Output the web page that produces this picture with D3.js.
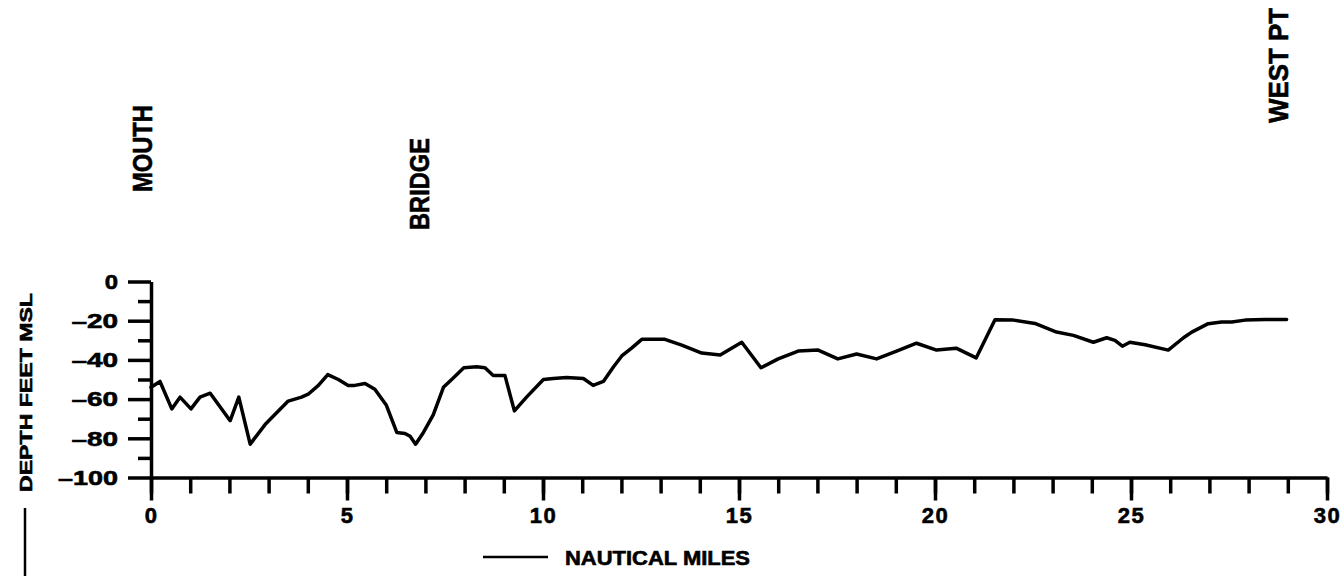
<!DOCTYPE html>
<html>
<head>
<meta charset="utf-8">
<script src="https://cdn.jsdelivr.net/npm/d3@7"></script>
<style>
  html, body { margin: 0; padding: 0; background: #fff; }
  svg { display: block; }
  text { font-family: "Liberation Sans", Arial, sans-serif; font-weight: bold; fill: #000; stroke: #000; stroke-width: 0.6px; }
</style>
</head>
<body>
<svg id="chart" width="1344" height="576"></svg>
<script>
// ---- data ----
const miles = [0.0, 0.23, 0.53, 0.74, 1.02, 1.25, 1.51, 2.02, 2.24, 2.53, 2.91, 3.50, 3.84, 4.01, 4.27, 4.51, 4.78, 5.03, 5.20, 5.46, 5.71, 6.0,
  6.27, 6.48, 6.61, 6.75, 6.95, 7.20, 7.46, 7.67, 7.98, 8.31, 8.52, 8.73, 9.03, 9.27, 9.58, 10.01, 10.26, 10.6, 11.03, 11.28, 11.54, 11.8,
  12.01, 12.26, 12.52, 13.11, 13.54, 14.05, 14.52, 15.07, 15.56, 16.0, 16.51, 17.02, 17.52, 18.0, 18.51, 19.02, 19.53, 20.04, 20.54, 21.05,
  21.53, 22.0, 22.55, 23.1, 23.53, 24.04, 24.38, 24.59, 24.78, 24.97, 25.36, 25.95, 26.34, 26.55, 26.97, 27.31, 27.57, 27.91, 28.42, 28.97];
const depth = [-54, -51, -65, -59, -65, -59, -57, -71, -59, -83, -73, -61, -59, -57.5, -53, -47.5, -50, -53, -53, -52, -55, -63,
  -77, -77.5, -79, -83, -77, -68, -54, -50, -44, -43.5, -44, -48, -48, -66, -59, -50, -49.5, -49, -49.5, -53, -51, -43.5,
  -38, -34, -29.5, -29.5, -32.5, -36.5, -37.5, -31, -44, -39.5, -35.5, -35, -39.5, -37, -39.5, -35.5, -31.5, -35, -34, -39,
  -19.5, -19.7, -21.4, -25.8, -27.5, -31, -28.7, -30, -33, -31, -32.3, -35, -28.7, -25.8, -21.5, -20.7, -20.7, -19.7, -19.4, -19.4];

const xMajorTicks = [0, 5, 10, 15, 20, 25, 30];
const xMinorTicks = d3.range(0, 31, 1);
const yMajorTicks = [0, -20, -40, -60, -80, -100];
const yMinorTicks = [-10, -30, -50, -70, -90];

const landmarks = ["MOUTH", "BRIDGE", "WEST PT"];
const landmarkMiles = [0.02, 7.1, 29.0];

const yTitle = "DEPTH FEET MSL";
const xTitle = "NAUTICAL MILES";

// ---- drawing ----
const svg = d3.select("#chart");
const x = d3.scaleLinear().domain([0, 30]).range([151, 1327]);
const y = d3.scaleLinear().domain([-100, 0]).range([477.5, 281.5]);

const fmt = d => d < 0 ? "\u2013" + Math.abs(d) : String(d);

// minor x ticks
svg.append("g")
  .attr("transform", `translate(0,${y(-100)})`)
  .call(d3.axisBottom(x).tickValues(xMinorTicks).tickSize(16).tickFormat(""))
  .call(g => g.select(".domain").remove())
  .call(g => g.selectAll("line").attr("stroke", "#000").attr("stroke-width", 3.5));

// major x ticks + domain
svg.append("g")
  .attr("transform", `translate(0,${y(-100)})`)
  .call(d3.axisBottom(x).tickValues(xMajorTicks).tickSize(23).tickSizeOuter(0).tickPadding(7).tickFormat(d3.format("d")))
  .call(g => g.select(".domain").attr("stroke", "#000").attr("stroke-width", 3.5))
  .call(g => g.selectAll("line").attr("stroke", "#000").attr("stroke-width", 3.5))
  .call(g => g.selectAll("text").attr("font-size", 22).attr("letter-spacing", 1.5).attr("font-family", null).attr("dy", "0.71em"));

// minor y ticks
svg.append("g")
  .attr("transform", `translate(${x(0)},0)`)
  .call(d3.axisLeft(y).tickValues(yMinorTicks).tickSize(13).tickFormat(""))
  .call(g => g.select(".domain").remove())
  .call(g => g.selectAll("line").attr("stroke", "#000").attr("stroke-width", 3.5));

// major y ticks + domain
svg.append("g")
  .attr("transform", `translate(${x(0)},0)`)
  .call(d3.axisLeft(y).tickValues(yMajorTicks).tickSize(23).tickSizeOuter(0).tickPadding(10).tickFormat(fmt))
  .call(g => g.select(".domain").attr("stroke", "#000").attr("stroke-width", 3.5))
  .call(g => g.selectAll("line").attr("stroke", "#000").attr("stroke-width", 3.5))
  .call(g => g.selectAll("text").attr("font-size", 21).attr("font-family", null)
    .attr("textLength", d => (d < 0 ? 20 : 0) + String(Math.abs(d)).length * 13.3)
    .attr("lengthAdjust", "spacingAndGlyphs"));

// depth profile line
const pts = miles.map((m, i) => [m, depth[i]]);
svg.append("path")
  .datum(pts)
  .attr("fill", "none")
  .attr("stroke", "#000")
  .attr("stroke-width", 3.5)
  .attr("stroke-linejoin", "round")
  .attr("stroke-linecap", "round")
  .attr("d", d3.line().x(d => x(d[0])).y(d => y(d[1])));

// landmark labels (rotated)
const lmBottom = [192, 230, 123];
const lmLen = [87, 92, 115];
landmarks.forEach((t, i) => {
  const bx = x(landmarkMiles[i]);
  svg.append("text")
    .attr("transform", `translate(${bx},${lmBottom[i]}) rotate(-90)`)
    .attr("font-size", 27)
    .attr("textLength", lmLen[i])
    .attr("lengthAdjust", "spacingAndGlyphs")
    .text(t);
});

// y-axis title (rotated) with legend stroke below
svg.append("text")
  .attr("transform", `translate(32,492) rotate(-90)`)
  .attr("font-size", 17)
  .attr("textLength", 199)
  .attr("lengthAdjust", "spacingAndGlyphs")
  .text(yTitle);
svg.append("line")
  .attr("x1", 25).attr("x2", 25).attr("y1", 508).attr("y2", 580)
  .attr("stroke", "#000").attr("stroke-width", 2.5);

// x-axis title with legend stroke
svg.append("line")
  .attr("x1", 483).attr("x2", 548).attr("y1", 557).attr("y2", 557)
  .attr("stroke", "#000").attr("stroke-width", 2.5);
svg.append("text")
  .attr("x", 565).attr("y", 565)
  .attr("font-size", 20)
  .attr("textLength", 185)
  .attr("lengthAdjust", "spacingAndGlyphs")
  .text(xTitle);
</script>
</body>
</html>
